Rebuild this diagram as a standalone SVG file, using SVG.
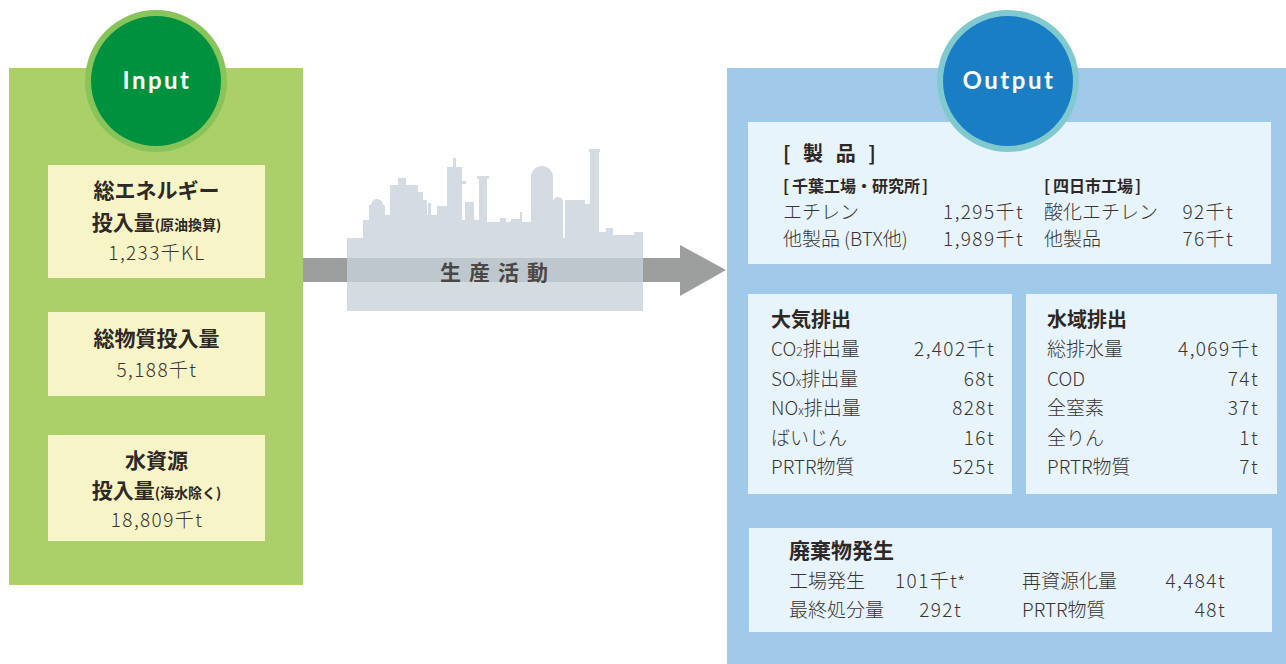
<svg xmlns="http://www.w3.org/2000/svg" width="1286" height="664" viewBox="0 0 1286 664">
  <style>
    .ttl { font-family: Lato, "Noto Sans", sans-serif; font-weight: 700; font-size: 24px; fill: #ffffff; letter-spacing: 2.5px; }
    .ink { fill: #2e2826; }
    .b { font-family: "Noto Sans CJK JP", sans-serif; font-weight: 700; }
    .l { font-family: "Noto Sans CJK JP", sans-serif; font-weight: 300; font-size: 19px; fill: #3a3431; }
    .v { text-anchor: end; letter-spacing: 1.4px; }
    .n { letter-spacing: 1.4px; }
    .c { text-anchor: middle; }
    .inbox { fill: #f7f4c7; }
    .outbox { fill: #e8f4fc; }
  </style>

  <!-- Input panel -->
  <g id="input">
    <rect x="9" y="68" width="294" height="517" fill="#abd06a"/>
    <circle cx="156" cy="81" r="71" fill="#88c45a"/>
    <circle cx="156" cy="81" r="65" fill="#00913f"/>
    <text class="ttl c" x="157" y="89">Input</text>
  </g>

  <g id="energy">
    <rect class="inbox" x="48" y="165" width="217" height="113"/>
    <text class="b ink c" x="156.5" y="198" font-size="21">総エネルギー</text>
    <text class="b ink c" x="156.5" y="230" font-size="21">投入量<tspan font-size="14">(原油換算)</tspan></text>
    <text class="l n c" x="157" y="260">1,233千KL</text>
  </g>

  <g id="material">
    <rect class="inbox" x="48" y="312" width="217" height="84"/>
    <text class="b ink c" x="156.5" y="346" font-size="21">総物質投入量</text>
    <text class="l n c" x="157" y="377">5,188千t</text>
  </g>

  <g id="water-in">
    <rect class="inbox" x="48" y="435" width="217" height="106"/>
    <text class="b ink c" x="156.5" y="468" font-size="21">水資源</text>
    <text class="b ink c" x="156.5" y="498" font-size="21">投入量<tspan font-size="14">(海水除く)</tspan></text>
    <text class="l n c" x="157" y="527">18,809千t</text>
  </g>

  <!-- Flow from input to output -->
  <g id="connectors">
    <rect x="303" y="258" width="378" height="24" fill="#9d9e9e"/>
    <polygon points="680,245 726,270 680,296" fill="#9d9e9e"/>
  </g>

  <!-- Plant skyline -->
  <g id="production">
    <g fill="#c8d2da" opacity="0.78">
      <rect x="347" y="238" width="296" height="73"/>
      <rect x="363" y="220" width="7" height="19"/>
      <rect x="369" y="205" width="16" height="34"/>
      <circle cx="377" cy="205" r="6"/>
      <rect x="385" y="215" width="6" height="24"/>
      <rect x="390" y="185" width="28" height="54"/>
      <rect x="398" y="178" width="8" height="8"/>
      <rect x="418" y="192" width="5" height="47"/>
      <rect x="418" y="200" width="9" height="39"/>
      <rect x="428" y="203" width="3" height="36"/>
      <rect x="424" y="215" width="14" height="24"/>
      <rect x="437" y="206" width="10" height="33"/>
      <rect x="447" y="167" width="15" height="72"/>
      <rect x="453" y="158" width="3" height="10"/>
      <rect x="462" y="181" width="4" height="3"/>
      <rect x="462" y="220" width="4" height="19"/>
      <rect x="465" y="202" width="9" height="37"/>
      <rect x="474" y="220" width="5" height="19"/>
      <rect x="479" y="178" width="8" height="61"/>
      <rect x="477" y="176" width="12" height="3"/>
      <rect x="487" y="222" width="44" height="17"/>
      <rect x="500" y="218" width="6" height="5"/>
      <rect x="511" y="219" width="9" height="4"/>
      <rect x="520" y="212" width="2" height="11"/>
      <rect x="531" y="176" width="22" height="63"/>
      <circle cx="542" cy="177" r="11"/>
      <rect x="553" y="201" width="10" height="38"/>
      <circle cx="558" cy="202" r="5"/>
      <rect x="565" y="200" width="20" height="39"/>
      <rect x="585" y="204" width="6" height="35"/>
      <rect x="590" y="151" width="9" height="88"/>
      <rect x="589" y="149" width="11" height="3"/>
      <rect x="599" y="232" width="8" height="7"/>
      <rect x="606" y="228" width="7" height="11"/>
      <rect x="613" y="235" width="21" height="4"/>
      <rect x="634" y="232" width="9" height="7"/>
    </g>
    <text class="b" x="440" y="280" font-size="21" fill="#4b4745" letter-spacing="8">生産活動</text>
  </g>

  <!-- Output panel -->
  <g id="output">
    <rect x="727" y="68" width="559" height="596" fill="#a0c9ea"/>
  </g>

  <g id="products">
    <rect class="outbox" x="748" y="122" width="523" height="142"/>
    <text class="b ink" x="783" y="161" font-size="20" letter-spacing="4">[ 製 品 ]</text>
    <text class="b ink" x="783" y="192" font-size="16">[<tspan dx="3">千葉工場・研究所</tspan><tspan dx="2">]</tspan></text>
    <text class="b ink" x="1044" y="192" font-size="16">[<tspan dx="3">四日市工場</tspan><tspan dx="2">]</tspan></text>
    <text class="l" x="783" y="219">エチレン</text>
    <text class="l v" x="1024" y="219">1,295千t</text>
    <text class="l" x="783" y="246">他製品<tspan dx="4">(BTX他)</tspan></text>
    <text class="l v" x="1024" y="246">1,989千t</text>
    <text class="l" x="1044" y="219">酸化エチレン</text>
    <text class="l v" x="1234" y="219">92千t</text>
    <text class="l" x="1044" y="246">他製品</text>
    <text class="l v" x="1234" y="246">76千t</text>
  </g>

  <!-- Output circle sits over the products box -->
  <g id="output-badge">
    <circle cx="1008" cy="81" r="71" fill="#80cacf"/>
    <circle cx="1008" cy="81" r="65" fill="#1a7ec4"/>
    <text class="ttl c" x="1009" y="89">Output</text>
  </g>

  <g id="air">
    <rect class="outbox" x="748" y="294" width="264" height="200"/>
    <text class="b ink" x="771" y="327" font-size="20">大気排出</text>
    <text class="l" x="771" y="356">CO<tspan font-size="12">2</tspan>排出量</text>
    <text class="l v" x="995" y="356">2,402千t</text>
    <text class="l" x="771" y="386">SO<tspan font-size="12">x</tspan>排出量</text>
    <text class="l v" x="995" y="386">68t</text>
    <text class="l" x="771" y="415">NO<tspan font-size="12">x</tspan>排出量</text>
    <text class="l v" x="995" y="415">828t</text>
    <text class="l" x="771" y="445">ばいじん</text>
    <text class="l v" x="995" y="445">16t</text>
    <text class="l" x="771" y="474">PRTR物質</text>
    <text class="l v" x="995" y="474">525t</text>
  </g>

  <g id="water-out">
    <rect class="outbox" x="1026" y="294" width="251" height="200"/>
    <text class="b ink" x="1047" y="327" font-size="20">水域排出</text>
    <text class="l" x="1047" y="356">総排水量</text>
    <text class="l v" x="1259" y="356">4,069千t</text>
    <text class="l" x="1047" y="386">COD</text>
    <text class="l v" x="1259" y="386">74t</text>
    <text class="l" x="1047" y="415">全窒素</text>
    <text class="l v" x="1259" y="415">37t</text>
    <text class="l" x="1047" y="445">全りん</text>
    <text class="l v" x="1259" y="445">1t</text>
    <text class="l" x="1047" y="474">PRTR物質</text>
    <text class="l v" x="1259" y="474">7t</text>
  </g>

  <g id="waste">
    <rect class="outbox" x="749" y="528" width="523" height="104"/>
    <text class="b ink" x="789" y="558" font-size="21">廃棄物発生</text>
    <text class="l" x="789" y="588">工場発生</text>
    <text class="l n" x="895" y="588">101千t<tspan font-family="Liberation Sans, sans-serif" font-size="15" dy="-3" letter-spacing="0">*</tspan></text>
    <text class="l" x="789" y="617">最終処分量</text>
    <text class="l v" x="962" y="617">292t</text>
    <text class="l" x="1022" y="588">再資源化量</text>
    <text class="l v" x="1226" y="588">4,484t</text>
    <text class="l" x="1022" y="617">PRTR物質</text>
    <text class="l v" x="1226" y="617">48t</text>
  </g>
</svg>
